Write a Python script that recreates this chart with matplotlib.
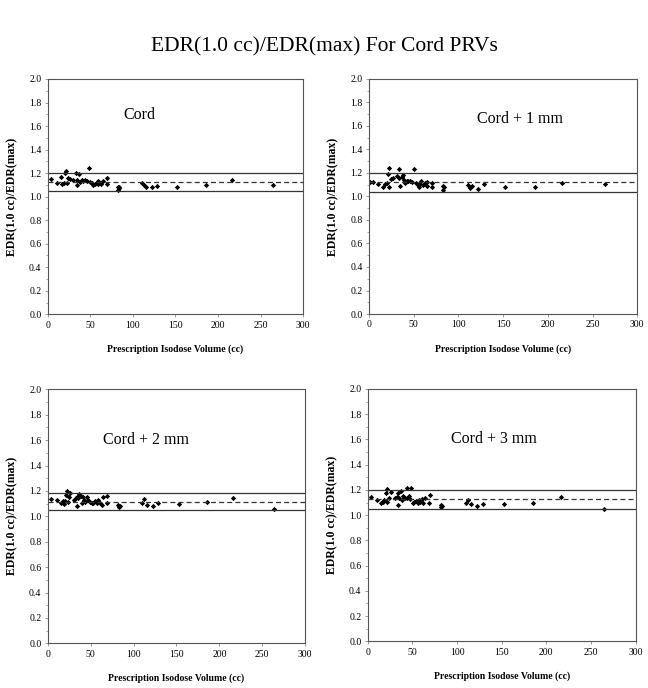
import numpy as np
import matplotlib
matplotlib.use('Agg')
import matplotlib.pyplot as plt
from matplotlib.ticker import MultipleLocator

# panel names
names = ['Cord', 'Cord + 1 mm', 'Cord + 2 mm', 'Cord + 3 mm']

# Cord
vol_0 = [3.9, 10.5, 15.2, 17.2, 19.1, 20.3, 21.8, 22.3, 24.2, 26.2, 30.1, 32.8, 34.0, 34.8,
         37.1, 37.9, 39.9, 41.8, 43.8, 45.8, 48.5, 49.6, 51.6, 53.5, 55.5, 57.5, 58.7, 59.4,
         61.4, 63.0, 65.3, 69.2, 69.2, 82.2, 82.9, 83.6, 84.1, 110.3, 113.0, 115.4, 122.0,
         128.6, 151.4, 185.4, 216.0, 264.8]
edr_0 = [1.147, 1.119, 1.164, 1.105, 1.113, 1.198, 1.221, 1.119, 1.156, 1.150, 1.141, 1.204,
         1.099, 1.141, 1.195, 1.127, 1.141, 1.136, 1.141, 1.133, 1.244, 1.127, 1.113, 1.099,
         1.105, 1.119, 1.133, 1.108, 1.119, 1.110, 1.136, 1.156, 1.105, 1.085, 1.057, 1.070,
         1.080, 1.113, 1.099, 1.085, 1.079, 1.090, 1.079, 1.099, 1.141, 1.099]

# Cord + 1 mm
vol_1 = [1.1, 4.0, 10.4, 15.3, 17.9, 19.8, 20.9, 22.4, 22.4, 24.2, 26.5, 30.9, 33.5, 33.9,
         34.7, 36.5, 37.6, 39.1, 40.3, 42.1, 44.0, 45.8, 48.5, 50.3, 52.2, 54.4, 55.9, 57.0,
         58.1, 60.0, 62.6, 64.5, 65.2, 70.1, 70.1, 82.4, 83.1, 84.2, 110.3, 113.0, 115.5,
         122.2, 129.0, 152.0, 185.6, 216.2, 263.9]
edr_1 = [1.127, 1.127, 1.108, 1.085, 1.108, 1.119, 1.193, 1.241, 1.085, 1.147, 1.156, 1.176,
         1.235, 1.156, 1.091, 1.170, 1.184, 1.142, 1.119, 1.136, 1.136, 1.136, 1.127, 1.232,
         1.119, 1.099, 1.085, 1.105, 1.133, 1.099, 1.119, 1.127, 1.091, 1.113, 1.079, 1.091,
         1.051, 1.079, 1.099, 1.071, 1.091, 1.062, 1.105, 1.079, 1.079, 1.119, 1.108]

# Cord + 2 mm
vol_2 = [3.9, 11.3, 15.5, 17.5, 19.0, 20.2, 21.3, 22.9, 23.5, 24.8, 26.4, 30.7, 33.0, 33.8,
         34.5, 35.7, 36.9, 38.4, 39.6, 40.8, 42.3, 43.9, 45.4, 47.3, 49.3, 51.2, 53.2, 55.1,
         57.0, 59.0, 60.9, 62.9, 64.8, 68.7, 68.7, 82.3, 83.1, 84.2, 110.2, 112.6, 115.3,
         122.3, 128.8, 152.5, 185.1, 215.8, 263.9]
edr_2 = [1.134, 1.129, 1.108, 1.121, 1.097, 1.121, 1.168, 1.202, 1.115, 1.155, 1.186, 1.129,
         1.142, 1.155, 1.081, 1.142, 1.176, 1.160, 1.102, 1.150, 1.129, 1.115, 1.150, 1.129,
         1.115, 1.102, 1.108, 1.123, 1.108, 1.129, 1.102, 1.089, 1.150, 1.160, 1.108, 1.089,
         1.076, 1.081, 1.102, 1.134, 1.089, 1.081, 1.102, 1.097, 1.115, 1.142, 1.055]

# Cord + 3 mm
vol_3 = [3.7, 10.8, 14.9, 16.8, 18.7, 20.5, 21.3, 22.0, 23.9, 26.1, 30.6, 32.5, 33.6, 34.3,
         35.4, 37.3, 38.8, 39.9, 41.8, 43.7, 44.4, 46.3, 47.4, 48.5, 50.4, 52.2, 54.1, 56.0,
         57.5, 58.6, 60.4, 62.3, 64.2, 69.0, 69.8, 81.7, 82.4, 83.6, 110.1, 112.7, 115.3,
         122.7, 129.5, 152.2, 185.1, 216.0, 264.5]
edr_3 = [1.147, 1.120, 1.094, 1.107, 1.120, 1.178, 1.107, 1.205, 1.133, 1.186, 1.133, 1.141,
         1.173, 1.081, 1.133, 1.194, 1.120, 1.152, 1.133, 1.213, 1.133, 1.152, 1.125, 1.213,
         1.094, 1.107, 1.112, 1.094, 1.120, 1.107, 1.125, 1.099, 1.133, 1.094, 1.160, 1.081,
         1.062, 1.073, 1.099, 1.120, 1.088, 1.075, 1.088, 1.088, 1.094, 1.141, 1.046]

# reference lines: upper, mean, lower
upper = [1.198, 1.201, 1.181, 1.202]
mean = [1.122, 1.122, 1.115, 1.128]
lower = [1.045, 1.036, 1.052, 1.046]

vols = [vol_0, vol_1, vol_2, vol_3]
edrs = [edr_0, edr_1, edr_2, edr_3]

# label positions (data coords)
label_x = [108, 169, 115, 141]
label_y = [1.69, 1.66, 1.60, 1.60]

boxes = [[0.0736, 0.5432, 0.3944, 0.342],
         [0.5694, 0.5436, 0.414, 0.3416],
         [0.0736, 0.065, 0.3975, 0.369],
         [0.5674, 0.0679, 0.4136, 0.3667]]

serif = ['Liberation Serif', 'DejaVu Serif']

fig = plt.figure(figsize=(6.48, 6.88), dpi=100)
fig.text(0.5, 0.932, 'EDR(1.0 cc)/EDR(max) For Cord PRVs', ha='center', va='center',
         fontsize=15.5, family=serif)

for i in range(4):
    ax = fig.add_axes(boxes[i])
    ax.plot(vols[i], edrs[i], 'D', color='black', markersize=2.7, markeredgewidth=0)
    ax.axhline(upper[i], color='#333333', lw=0.9)
    ax.axhline(mean[i], color='#333333', lw=0.9, ls=(0, (4, 2.5)))
    ax.axhline(lower[i], color='#333333', lw=0.9)
    ax.set_xlim(0, 300)
    ax.set_ylim(0, 2.0)
    ax.xaxis.set_major_locator(MultipleLocator(50))
    ax.yaxis.set_major_locator(MultipleLocator(0.2))
    ax.yaxis.set_minor_locator(MultipleLocator(0.1))
    ax.yaxis.set_major_formatter(plt.FuncFormatter(lambda v, p: '%.1f' % v))
    ax.tick_params(axis='both', which='major', direction='out', length=2.5, width=0.6,
                   labelsize=7, color='#888888', pad=2)
    ax.tick_params(axis='y', which='minor', direction='out', length=1.5, width=0.5,
                   color='#888888')
    for lab in ax.get_xticklabels() + ax.get_yticklabels():
        lab.set_family(serif)
    for sp in ax.spines.values():
        sp.set_color('#555555')
        sp.set_linewidth(0.8)
    ax.set_xlabel('Prescription Isodose Volume (cc)', fontsize=7, fontweight='bold',
                  family=serif, labelpad=11)
    ax.set_ylabel('EDR(1.0 cc)/EDR(max)', fontsize=8.5, fontweight='bold',
                  family=serif, labelpad=8)
    ax.text(label_x[i], label_y[i], names[i], ha='center', va='center', fontsize=11.5,
            family=serif)

fig.savefig('out.png', dpi=100)
